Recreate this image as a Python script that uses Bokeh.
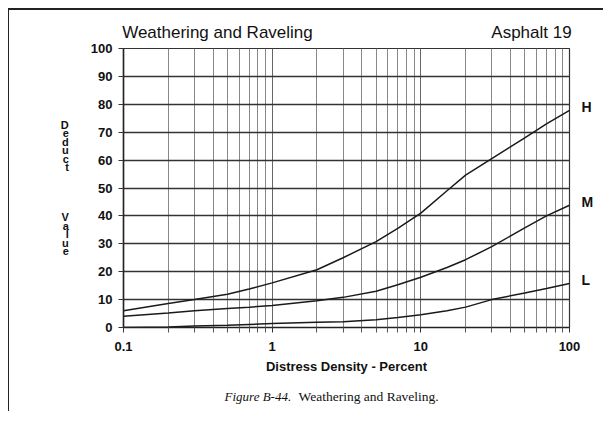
from bokeh.plotting import figure
from bokeh.layouts import column
from bokeh.models import (FixedTicker, Label, Range1d, LogAxis, LinearAxis, Div)
from bokeh.embed import file_html
from bokeh.resources import INLINE

# ---- data ----
density = [0.1, 0.2, 0.3, 0.5, 0.7, 1, 2, 3, 5, 7, 10, 15, 20, 30, 50, 70, 100]
deduct_H = [6, 8.6, 10, 11.9, 13.8, 16, 20.7, 25, 30.8, 35.5, 41, 49, 54.6, 60.5, 68, 73, 77.8]
deduct_M = [4, 5.2, 6, 6.8, 7.3, 7.9, 9.6, 10.8, 13, 15.3, 18, 21.5, 24.3, 29, 35.7, 40, 43.8]
deduct_L = [0, 0.2, 0.5, 0.8, 1.1, 1.4, 1.9, 2.1, 2.8, 3.6, 4.6, 6, 7.3, 10, 12.4, 14, 15.8]
severity = ["H", "M", "L"]
x_major = [0.1, 1, 10, 100]
x_labels = ["0.1", "1", "10", "100"]
y_ticks = [0, 10, 20, 30, 40, 50, 60, 70, 80, 90, 100]
title_left = "Weathering and Raveling"
title_right = "Asphalt 19"
y_title = ["Deduct", "Value"]
caption_fig = "Figure B-44."
caption_text = "Weathering and Raveling."

SANS = "Liberation Sans"
SERIF = "Liberation Serif"

W, H = 594, 371
p = figure(width=W, height=H, x_axis_type="log",
           x_range=Range1d(0.1, 100), y_range=Range1d(0, 100),
           output_backend="svg", toolbar_location=None,
           min_border_left=114, min_border_right=34,
           min_border_top=38, min_border_bottom=54)
p.outline_line_color = "#333"
p.outline_line_width = 1.2
p.background_fill_color = "white"
p.border_fill_color = "white"

minor = [m * d for d in (0.1, 1, 10) for m in range(2, 10)]
p.xaxis.ticker = FixedTicker(ticks=x_major, minor_ticks=minor)
p.xaxis.major_label_overrides = {t: l for t, l in zip(x_major, x_labels)}
p.yaxis.ticker = FixedTicker(ticks=y_ticks)

for ax in (p.xaxis[0], p.yaxis[0]):
    ax.axis_line_color = "#222"
    ax.axis_line_width = 1.5
    ax.major_tick_line_color = "#333"
    ax.major_tick_out = 5
    ax.major_tick_in = 0
    ax.major_label_text_font = SANS
    ax.major_label_text_font_style = "bold"
    ax.major_label_text_font_size = "13px"
    ax.major_label_text_color = "#111"
p.xaxis.minor_tick_line_color = "#555"
p.xaxis.minor_tick_out = 5
p.xaxis.minor_tick_in = 0
p.yaxis.minor_tick_line_color = None
p.xaxis.major_label_standoff = 9
p.yaxis.major_label_standoff = 6

p.xaxis.axis_label = "Distress Density - Percent"
p.xaxis.axis_label_text_font = SANS
p.xaxis.axis_label_text_font_style = "bold"
p.xaxis.axis_label_text_font_size = "13px"
p.xaxis.axis_label_text_color = "#111"
p.xaxis.axis_label_standoff = 5

# stacked y-axis title
p.yaxis.axis_label = "\n".join(list(y_title[0]) + [" "] * 5 + list(y_title[1]))
p.yaxis.axis_label_orientation = "horizontal"
p.yaxis.axis_label_text_font = SANS
p.yaxis.axis_label_text_font_style = "bold"
p.yaxis.axis_label_text_font_size = "11px"
p.yaxis.axis_label_text_line_height = 0.7
p.yaxis.axis_label_text_color = "#111"
p.yaxis.axis_label_standoff = 19

# grid
p.xgrid.grid_line_color = "#666"
p.xgrid.grid_line_width = 1
p.xgrid.minor_grid_line_color = "#888"
p.xgrid.minor_grid_line_width = 1
p.ygrid.grid_line_color = "#333"
p.ygrid.grid_line_width = 1.5

# curves
curves = (deduct_H, deduct_M, deduct_L)
for ys in curves:
    p.line(density, ys, line_color="#1a1a1a", line_width=1.5)

# curve labels on a right-hand axis placed at each curve's end
end_ticks = [ys[-1] + 1.2 for ys in curves]
rax = LinearAxis(ticker=FixedTicker(ticks=end_ticks),
                 major_label_overrides={t: s for t, s in zip(end_ticks, severity)},
                 axis_line_color=None, major_tick_line_color=None,
                 major_tick_out=0, major_tick_in=0,
                 minor_tick_line_color=None, major_label_standoff=12,
                 major_label_text_font=SANS, major_label_text_font_style="bold",
                 major_label_text_font_size="14px", major_label_text_color="#111")
p.add_layout(rax, "right")

# headings as labels of an axis above the frame
head_pos = [0.4287, 55.5]
tax = LogAxis(ticker=FixedTicker(ticks=head_pos, minor_ticks=[]),
              major_label_overrides={head_pos[0]: title_left, head_pos[1]: title_right},
              axis_line_color=None, major_tick_line_color=None,
              major_tick_out=0, major_tick_in=0,
              minor_tick_line_color=None, major_label_standoff=7,
              major_label_text_font=SANS, major_label_text_font_size="17px",
              major_label_text_color="#111")
p.add_layout(tax, "above")

# thin rule along the top of the page
rule = Div(text="", width=W, height=2, margin=0,
           styles={"background-color": "#222", "width": f"{W}px",
                   "height": "2px", "margin": "0px", "padding": "0px"})

# caption strip below the chart (screen x is relative to the aligned frame)
cap = figure(width=W, height=30, output_backend="svg", toolbar_location=None,
             x_axis_location=None, y_axis_location=None,
             x_range=Range1d(0, 1), y_range=Range1d(0, 1),
             min_border_left=0, min_border_right=0,
             min_border_top=0, min_border_bottom=0)
cap.outline_line_color = None
cap.grid.visible = False
cap.add_layout(Label(x=101, y=15, x_units="screen", y_units="screen",
                     text=caption_fig, text_font=SERIF, text_font_style="italic",
                     text_font_size="13px", text_baseline="middle", text_color="#111"))
cap.add_layout(Label(x=175, y=15, x_units="screen", y_units="screen",
                     text=caption_text, text_font=SERIF,
                     text_font_size="13.5px", text_baseline="middle", text_color="#111"))

page = column(rule, p, cap, spacing=0,
              styles={"margin-left": "8px", "margin-top": "8px",
                      "border-left": "1.5px solid #222"})

open("out.html", "w").write(file_html(page, INLINE))
